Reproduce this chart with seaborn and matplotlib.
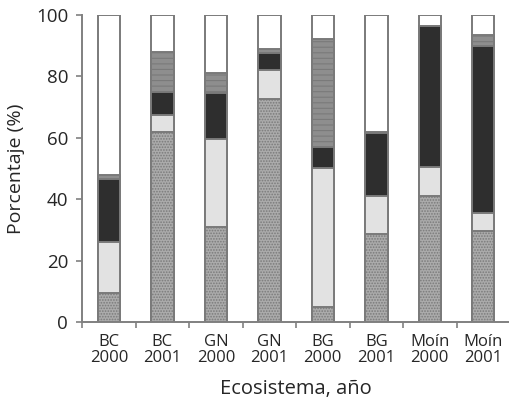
import numpy as np
import pandas as pd
import matplotlib
matplotlib.use("Agg")
import matplotlib.pyplot as plt
import seaborn as sns

# categories
labels = ['BC\n2000', 'BC\n2001', 'GN\n2000', 'GN\n2001',
          'BG\n2000', 'BG\n2001', 'Moín\n2000', 'Moín\n2001']

# stacked segments (percent), bottom to top
dotted = [9.5, 62, 31, 72.5, 5, 28.5, 41, 29.5]
light = [16.5, 5.5, 28.5, 9.5, 45, 12.5, 9.5, 6]
dark = [20.5, 7.5, 15, 5.5, 7, 20.5, 46, 54.5]
lined = [1.5, 13, 6.5, 1.5, 35, 0.5, 0, 3.5]

segments = [dotted, light, dark, lined]
tops = np.cumsum(np.array(segments), axis=0)
white_top = [100] * len(labels)

sns.set_style("white")
plt.rcParams['font.family'] = ['Open Sans', 'DejaVu Sans']
plt.rcParams['hatch.linewidth'] = 0.8

fig = plt.figure(figsize=(5.1, 4.03), dpi=100)
ax = fig.add_axes([0.161, 0.201, 0.839, 0.762])

edge = '#7a7a7a'
layers = [
    (white_top, 'white', None),
    (tops[3], '#8e8e8e', '---'),
    (tops[2], '#2e2e2e', None),
    (tops[1], '#e2e2e2', None),
    (tops[0], '#ababab', '......'),
]

for vals, col, hatch in layers:
    df = pd.DataFrame({'cat': labels, 'val': vals})
    n_before = len(ax.patches)
    sns.barplot(data=df, x='cat', y='val', color=col, width=0.42,
                saturation=1, edgecolor=edge, linewidth=1.4, ax=ax)
    for p in ax.patches[n_before:]:
        p.set_facecolor(col)
        if hatch:
            p.set_hatch(hatch)

ax.set_ylim(0, 100)
ax.set_xlim(-0.5, 7.5)
ax.set_yticks([0, 20, 40, 60, 80, 100])
ax.tick_params(axis='y', labelsize=13.5, length=4, width=1.2, color='#808080', direction='out', left=True, pad=6)
ax.set_xticks(np.arange(-0.5, 8.0, 1.0), minor=True)
ax.tick_params(axis='x', which='minor', length=4, width=1.2, color='#808080', direction='out', bottom=True)
ax.tick_params(axis='x', which='major', length=0, labelsize=12, pad=9)
ax.set_xticklabels(labels, linespacing=1.0)

for s in ['top', 'right']:
    ax.spines[s].set_visible(False)
for s in ['left', 'bottom']:
    ax.spines[s].set_color('#808080')
    ax.spines[s].set_linewidth(1.4)

ax.set_xlabel('Ecosistema, año', fontsize=14.5, labelpad=9)
ax.set_ylabel('Porcentaje (%)', fontsize=14, labelpad=8)

fig.savefig('out.png', dpi=100)
